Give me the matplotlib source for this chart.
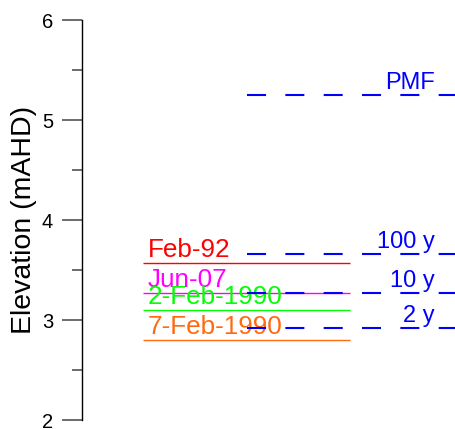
import matplotlib
matplotlib.use("Agg")
import matplotlib.pyplot as plt
from matplotlib.ticker import MultipleLocator

plt.rcParams['font.family'] = ['Liberation Sans', 'DejaVu Sans']
plt.rcParams['lines.scale_dashes'] = False

# Recorded historical flood levels (mAHD)
hist_labels = ["Feb-92", "Jun-07", "2-Feb-1990", "7-Feb-1990"]
hist_levels = [3.57, 3.27, 3.10, 2.80]
hist_colors = ["#ff0000", "#ff00ff", "#00ff00", "#ff6a10"]

# Design flood levels (mAHD)
design_labels = ["PMF", "100 y", "10 y", "2 y"]
design_levels = [5.25, 3.66, 3.27, 2.92]

fig = plt.figure(figsize=(4.56, 4.30), dpi=100)
ax = fig.add_axes([82 / 456, 10 / 430, 374 / 456, 400 / 430])
ax.set_xlim(0, 1)
ax.set_ylim(2, 6)

hx0, hx1 = 0.163, 0.717
dx0, dx1 = 0.441, 0.997

for lab, lvl, col in zip(hist_labels, hist_levels, hist_colors):
    ax.plot([hx0, hx1], [lvl, lvl], color=col, lw=1.0, solid_capstyle='butt', zorder=2)
    ax.annotate(lab, (hx0 + 0.013, lvl), xytext=(0, 4.3), textcoords='offset points',
                ha='left', va='baseline', color=col, fontsize=18.8, zorder=3)

for lab, lvl in zip(design_labels, design_levels):
    ax.plot([dx0, dx1], [lvl, lvl], color="#0000ff", lw=1.5,
            linestyle=(0, (13.7, 13.9)), dash_capstyle='butt', zorder=4)
    ax.annotate(lab, (0.943, lvl), xytext=(0, 4.0), textcoords='offset points',
                ha='right', va='baseline', color="#0000ff", fontsize=17, zorder=5)

for s in ['top', 'right', 'bottom']:
    ax.spines[s].set_visible(False)
ax.spines['left'].set_linewidth(1.0)
ax.set_xticks([])
ax.yaxis.set_major_locator(MultipleLocator(1))
ax.yaxis.set_minor_locator(MultipleLocator(0.5))
ax.tick_params(axis='y', which='major', length=14.4, width=1.1, color='#444444',
               labelsize=14.5, pad=6.5)
ax.tick_params(axis='y', which='minor', length=7.2, width=1.1, color='#444444')
ax.set_ylabel("Elevation (mAHD)", fontsize=20.5, labelpad=3.5)

fig.savefig("out.png", dpi=100)
